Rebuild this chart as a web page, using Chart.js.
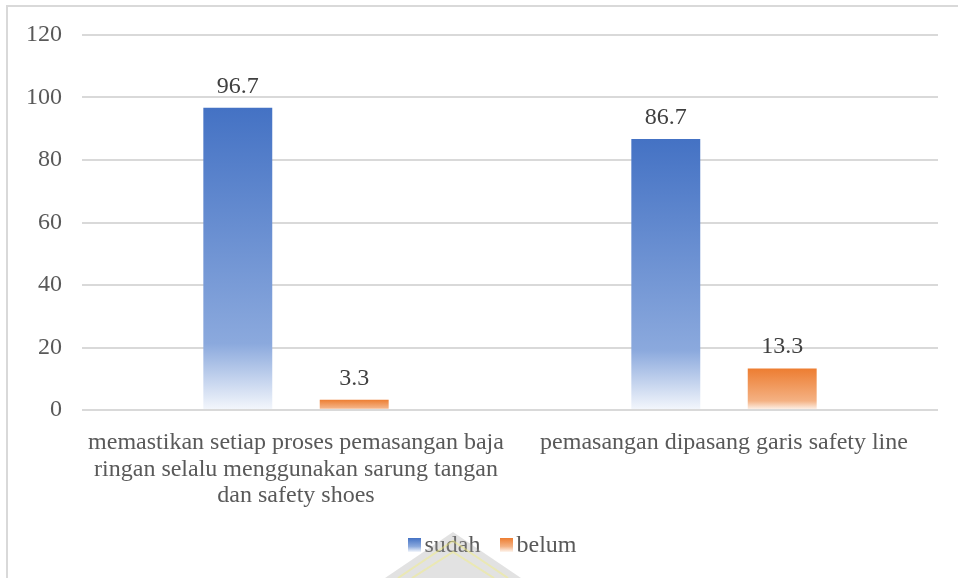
<!DOCTYPE html>
<html>
<head>
<meta charset="utf-8">
<script src="https://cdn.jsdelivr.net/npm/chart.js@4.4.1/dist/chart.umd.min.js"></script>
<style>
  html, body { margin: 0; padding: 0; background: #ffffff; }
  #wrap { width: 958px; height: 578px; position: relative; }
</style>
</head>
<body>
<div id="wrap"><canvas id="chart" width="958" height="578"></canvas></div>
<script>
// Categories (multi-line x labels)
const categories = [
  ["memastikan setiap proses pemasangan baja", "ringan selalu menggunakan sarung tangan", "dan safety shoes"],
  ["pemasangan dipasang garis safety line"]
];
const seriesNames = ["sudah", "belum"];
const sudahValues = [96.7, 86.7];
const belumValues = [3.3, 13.3];
const yMin = 0, yMax = 120, yStep = 20;

const FONT = "'Liberation Serif', 'Times New Roman', serif";
const FONT_SIZE = 24;
const TEXT = '#595959';

// colour ramps: full colour at the top of a bar, fading to near white at its base
const ramps = {
  blue:   ['#4472C4', '#8BA9DD', '#F4F7FC'],
  orange: ['#ED7D31', '#F4B183', '#FEF6F0']
};

function barGradient(ctx, rampKey) {
  const chart = ctx.chart;
  const y = chart.scales.y;
  if (!y || !chart.chartArea || ctx.raw === undefined) return ramps[rampKey][0];
  const top = y.getPixelForValue(ctx.raw);
  const base = y.getPixelForValue(0);
  if (!isFinite(top) || !isFinite(base) || base - top < 1) return ramps[rampKey][0];
  const g = chart.ctx.createLinearGradient(0, top, 0, base);
  const r = ramps[rampKey];
  g.addColorStop(0, r[0]);
  g.addColorStop(0.78, r[1]);
  g.addColorStop(1, r[2]);
  return g;
}

// small gradient swatch used in the legend
function swatch(rampKey, w, h) {
  const c = document.createElement('canvas');
  c.width = w; c.height = h;
  const x = c.getContext('2d');
  const g = x.createLinearGradient(0, 0, 0, h);
  const r = ramps[rampKey];
  g.addColorStop(0, r[0]);
  g.addColorStop(0.6, r[1]);
  g.addColorStop(1, r[2]);
  x.fillStyle = g;
  x.fillRect(0, 0, w, h);
  return c;
}

// outer frame of the chart
const framePlugin = {
  id: 'frame',
  beforeDraw(chart) {
    const c = chart.ctx;
    c.save();
    c.fillStyle = '#ffffff';
    c.fillRect(0, 0, chart.width, chart.height);
    c.strokeStyle = '#d9d9d9';
    c.lineWidth = 2;
    c.strokeRect(7, 6, chart.width + 20, chart.height + 20);
    c.restore();
  }
};

// value labels above each bar
const valueLabels = {
  id: 'valueLabels',
  afterDatasetsDraw(chart) {
    const c = chart.ctx;
    c.save();
    c.font = FONT_SIZE + 'px ' + FONT;
    c.fillStyle = '#404040';
    c.textAlign = 'center';
    c.textBaseline = 'alphabetic';
    chart.data.datasets.forEach((ds, i) => {
      const meta = chart.getDatasetMeta(i);
      meta.data.forEach((el, j) => {
        c.fillText(String(ds.data[j]), el.x, el.y - 15);
      });
    });
    c.restore();
  }
};

// legend row under the axis
const legendRow = {
  id: 'legendRow',
  afterDraw(chart) {
    const c = chart.ctx;
    c.save();
    c.font = FONT_SIZE + 'px ' + FONT;
    c.textBaseline = 'alphabetic';
    c.textAlign = 'left';
    const boxW = 13, boxH = 14, gapText = 4, gapItem = 19;
    const items = chart.data.datasets.map(ds => ({ label: ds.label, ramp: ds.ramp, w: boxW + gapText + c.measureText(ds.label).width }));
    const total = items.reduce((s, it) => s + it.w, 0) + gapItem * (items.length - 1);
    let x = 492 - total / 2;
    const boxTop = 538;
    items.forEach(it => {
      c.drawImage(swatch(it.ramp, boxW, boxH), Math.round(x), boxTop);
      c.fillStyle = TEXT;
      c.fillText(it.label, x + boxW + gapText, 552);
      x += it.w + gapItem;
    });
    c.restore();
  }
};

// faint emblem watermark at the bottom
const emblem = {
  id: 'emblem',
  afterDraw(chart) {
    const c = chart.ctx;
    c.save();
    c.globalAlpha = 0.3;
    c.fillStyle = '#a0a0a0';
    c.beginPath();
    c.moveTo(453, 532);
    c.lineTo(385, 578);
    c.lineTo(521, 578);
    c.closePath();
    c.fill();
    c.globalAlpha = 0.45;
    c.strokeStyle = '#f3ef7a';
    c.lineWidth = 2;
    c.beginPath();
    c.moveTo(412, 578); c.lineTo(453, 552); c.lineTo(494, 578);
    c.stroke();
    c.beginPath();
    c.moveTo(398, 578); c.lineTo(453, 541); c.lineTo(508, 578);
    c.stroke();
    c.restore();
  }
};

function build() {
  new Chart(document.getElementById('chart'), {
    type: 'bar',
    data: {
      labels: categories,
      datasets: [
        {
          label: seriesNames[0],
          data: sudahValues,
          ramp: 'blue',
          backgroundColor: ctx => barGradient(ctx, 'blue'),
          categoryPercentage: 0.544,
          barPercentage: 0.592
        },
        {
          label: seriesNames[1],
          data: belumValues,
          ramp: 'orange',
          backgroundColor: ctx => barGradient(ctx, 'orange'),
          categoryPercentage: 0.544,
          barPercentage: 0.592
        }
      ]
    },
    options: {
      responsive: false,
      animation: false,
      devicePixelRatio: 1,
      layout: { padding: { top: 35, left: 10, right: 20, bottom: 54 } },
      plugins: {
        legend: { display: false },
        tooltip: { enabled: false }
      },
      scales: {
        x: {
          grid: { display: false },
          border: { display: false },
          ticks: {
            color: TEXT,
            font: { family: FONT, size: FONT_SIZE, lineHeight: 1.1 },
            padding: 12,
            maxRotation: 0,
            autoSkip: false
          },
          afterFit(scale) { scale.height = 114; }
        },
        y: {
          min: yMin,
          max: yMax,
          ticks: {
            stepSize: yStep,
            color: TEXT,
            font: { family: FONT, size: FONT_SIZE },
            padding: 20
          },
          grid: { color: '#d9d9d9', lineWidth: 2, drawTicks: false },
          border: { display: false },
          afterFit(scale) { scale.width = 72; }
        }
      }
    },
    plugins: [framePlugin, valueLabels, legendRow, emblem]
  });
}

if (document.fonts && document.fonts.load) {
  document.fonts.load(FONT_SIZE + "px 'Liberation Serif'").then(build, build);
} else {
  build();
}
</script>
</body>
</html>
